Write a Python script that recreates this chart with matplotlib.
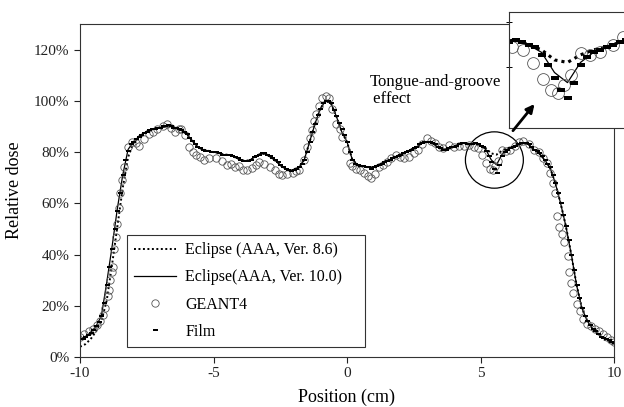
import numpy as np
import matplotlib
matplotlib.use('Agg')
import matplotlib.pyplot as plt
from matplotlib.patches import Ellipse

plt.rcParams['font.family'] = ['Liberation Serif', 'DejaVu Serif']

# Eclipse curves sampled every 0.2 cm
x_ecl = np.round(np.linspace(-10, 10, 101), 2)
ecl10 = [7, 8, 9.5, 12, 16, 29, 43, 58, 71, 81,
         84, 86, 87.5, 88.5, 89, 89.5, 90, 90, 89.5, 88.5,
         87, 84.5, 82, 81, 80.5, 80, 79.5, 79, 79, 78,
         77, 76.5, 77, 78.5, 79.5, 79, 77.5, 76, 74, 73,
         73, 74, 77, 84, 91, 97, 100, 99, 94, 88,
         84, 77, 75, 74.5, 74, 74, 75, 76, 77, 78,
         79, 80, 81, 82, 83.5, 84, 83.5, 82, 81, 81.5,
         82, 83, 83.5, 83, 83.5, 82.5, 81, 77, 75, 79,
         81, 82, 83, 83.5, 83, 81, 79.5, 77, 74, 68,
         60, 51, 40, 28, 19, 14, 11, 9, 7.5, 6.5,
         5.5]
ecl86 = [4, 5, 7, 10, 14, 22, 36, 51, 66, 78,
         83.5, 86, 87.5, 88.5, 89, 89.5, 90, 90, 89.5, 88.5,
         87, 84.5, 82, 81, 80.5, 80, 79.5, 79, 79, 78,
         77, 76.5, 77, 78.5, 79.5, 79, 77.5, 76, 74, 73,
         73, 74, 77, 84, 91, 97, 100, 99, 94, 88,
         84, 77, 75, 74.5, 74, 74, 75, 76, 77, 78,
         79, 80, 81, 82, 83.5, 84, 83.5, 82, 81, 81.5,
         82, 83, 83.5, 83, 83.5, 82.5, 81.5, 79.5, 79, 80.5,
         81.5, 82, 83, 83.5, 83, 81, 79.5, 77, 74, 68,
         60, 51, 40, 28, 19, 14, 11, 9, 7, 6,
         5]

# film sampled every 0.1 cm
x_film = np.round(np.linspace(-10, 10, 201), 2)
film = [7, 7, 8, 8.5, 9.5, 10.5, 12, 13.5, 16, 21,
        28, 35, 42, 50, 57, 64, 71, 77, 80.5, 83,
        84, 85, 86, 86.5, 87.5, 88, 88.5, 89, 89, 89.5,
        89.5, 90, 90, 90.5, 90, 89.5, 89.5, 89, 88.5, 88,
        87, 85.5, 84.5, 83, 82, 81.5, 81, 80.5, 80.5, 80,
        80, 80, 79.5, 79, 79, 79, 79, 78.5, 78, 77.5,
        77, 76.5, 76.5, 76.5, 77, 78, 78.5, 79, 79.5, 79.5,
        79, 78.5, 77.5, 77, 76, 75, 74, 73.5, 73, 72.5,
        73, 73.5, 74, 75.5, 77, 80, 84, 88, 91, 94.5,
        97, 99, 100, 100, 99, 96.5, 94, 91.5, 89, 86.5,
        84, 80, 77, 75.5, 75, 74.5, 74.5, 74, 74, 73.5,
        74, 74.5, 75, 75.5, 76, 76.5, 77, 77.5, 78, 78.5,
        79, 79.5, 80, 80.5, 81, 81.5, 82, 83, 83.5, 84,
        84, 84, 83.5, 83, 82, 81.5, 81, 81, 81.5, 82,
        82, 82.5, 83, 83.5, 83.5, 83, 83, 83, 83.5, 83,
        82.5, 82, 80.5, 78.5, 76, 73.5, 72, 75, 78.5, 80,
        81, 81.5, 82, 82.5, 83, 83.5, 83.5, 83.5, 83, 82,
        81, 80.5, 79.5, 78.5, 77, 75.5, 74, 71, 68, 64,
        60, 55.5, 51, 45.5, 40, 34, 28, 23, 19, 16,
        14, 12.5, 11, 10, 9, 8, 7.5, 7, 6.5, 6,
        5.5]

# GEANT4 points
x_g4 = [-10.0, -9.84, -9.65, -9.5, -9.35, -9.24, -9.12, -9.05, -8.95, -8.9,
        -8.86, -8.8, -8.76, -8.71, -8.65, -8.6, -8.55, -8.49, -8.42, -8.34,
        -8.2, -8.04, -7.9, -7.78, -7.6, -7.4, -7.25, -7.1, -6.9, -6.76,
        -6.6, -6.46, -6.3, -6.2, -6.05, -5.9, -5.75, -5.64, -5.5, -5.34,
        -5.15, -4.9, -4.7, -4.5, -4.35, -4.2, -4.05, -3.9, -3.75, -3.55,
        -3.4, -3.28, -3.1, -2.9, -2.7, -2.55, -2.45, -2.25, -2.04, -1.9,
        -1.78, -1.62, -1.48, -1.38, -1.3, -1.22, -1.15, -1.05, -0.92, -0.8,
        -0.68, -0.55, -0.4, -0.28, -0.17, -0.05, 0.1, 0.2, 0.35, 0.5,
        0.65, 0.8, 0.9, 1.05, 1.2, 1.35, 1.5, 1.65, 1.85, 2.0,
        2.15, 2.33, 2.5, 2.65, 2.8, 3.0, 3.15, 3.3, 3.45, 3.6,
        3.83, 4.0, 4.2, 4.4, 4.58, 4.75, 4.92, 5.07, 5.22, 5.35,
        5.45, 5.55, 5.65, 5.8, 5.95, 6.1, 6.3, 6.45, 6.6, 6.8,
        7.0, 7.2, 7.35, 7.5, 7.6, 7.7, 7.78, 7.85, 7.95, 8.05,
        8.14, 8.26, 8.33, 8.4, 8.48, 8.6, 8.72, 8.83, 8.98, 9.15,
        9.3, 9.45, 9.6, 9.75, 9.9, 10.0]
g4 = [8, 9, 10, 11, 12.5, 14, 16.5, 19, 24, 26,
      30, 33, 35, 42, 47, 52, 58, 64, 69, 74,
      82, 84, 83.5, 82.5, 85, 87, 88, 89, 90, 91,
      89.5, 88, 89, 89, 86.5, 82, 80, 79, 78, 77,
      77.5, 77.6, 76.5, 75, 75.5, 74, 74.5, 73, 73, 73.7,
      75, 76, 75.5, 74, 73, 71.5, 71, 71.5, 71.8, 72.5,
      73, 77, 82, 85.5, 88.6, 92, 95, 98, 101, 102,
      101, 97, 91, 89, 86, 81, 75.7, 74.5, 73.5, 73,
      72, 70.5, 70, 71.5, 74, 75, 76, 77.5, 78.8, 78,
      77.5, 78, 79.5, 81, 83, 85.5, 84.5, 83.5, 82, 81.5,
      82.7, 82, 82.5, 82.5, 82.7, 82, 81.5, 78.8, 75.7, 73.5,
      73, 74.5, 76.5, 80.8, 80.5, 81, 82.5, 84, 84.5, 83,
      81, 80, 77.5, 75.7, 72, 68, 64, 55, 50.6, 48,
      45, 39.6, 33, 29, 25, 20.8, 18, 15, 13, 12,
      11, 10, 9, 8, 6.5, 6]

x_ticks = [-10, -5, 0, 5, 10]
y_ticks = [0, 20, 40, 60, 80, 100, 120]

# flat rectangle marker for the film points
film_mark = [(-1, -0.55), (1, -0.55), (1, 0.55), (-1, 0.55), (-1, -0.55)]

fig = plt.figure(figsize=(6.24, 4.07), dpi=100)
ax = fig.add_axes([80/624, 1-357/407, 534/624, 333/407])

def draw(a, big=False):
    k = 1.6 if big else 1.0
    a.plot(x_ecl, ecl86, color='k', lw=1.4*k, ls=(0, (1, 1.3)), label='Eclipse (AAA, Ver. 8.6)')
    a.plot(x_ecl, ecl10, color='k', lw=0.9, label='Eclipse(AAA, Ver. 10.0)')
    a.plot(x_g4, g4, ls='none', marker='o', ms=5.3*k, mfc='none', mec='#555555', mew=0.6,
           label='GEANT4')
    a.plot(x_film, film, ls='none', marker=film_mark, ms=3.6*k, color='k', mew=0,
           label='Film')

draw(ax)
ax.set_xlim(-10, 10)
ax.set_ylim(0, 130)
ax.set_xticks(x_ticks)
ax.set_xticklabels(['-10', '-5', '0', '5', '10'])
ax.set_yticks(y_ticks)
ax.set_yticklabels([f'{v}%' for v in y_ticks])
ax.tick_params(direction='out', length=4, width=0.8, labelsize=11, colors='#222222')
for s in ax.spines.values():
    s.set_color('#333333')
    s.set_linewidth(0.8)
ax.set_xlabel('Position (cm)', fontsize=13, labelpad=6)
ax.set_ylabel('Relative dose', fontsize=13, labelpad=8)

leg = ax.legend(loc='lower left', bbox_to_anchor=(0.088, 0.03, 0.446, 0.336), mode='expand',
                borderaxespad=0, fontsize=11.5, frameon=True, fancybox=False,
                handlelength=2.6, labelspacing=0.7, borderpad=0.45, handletextpad=0.6)
leg.get_frame().set_edgecolor('k')
leg.get_frame().set_linewidth(0.8)

ax.add_patch(Ellipse((5.52, 76.9), 2.17, 22, fill=False, color='k', lw=0.9))
ax.text(0.84, 104, 'Tongue-and-groove\n effect', fontsize=12, ha='left', va='center',
        linespacing=1.1)

# zoomed inset
ax_in = fig.add_axes([509/624, 1-128/407, 130/624, 116/407])
draw(ax_in, big=True)
ax_in.set_xlim(4.7, 6.7)
ax_in.set_ylim(66, 89)
ax_in.set_xticks([])
ax_in.set_yticks([87, 78])
ax_in.set_yticklabels([])
ax_in.tick_params(direction='inout', length=4, width=0.7)
for s in ax_in.spines.values():
    s.set_color('#333333')
    s.set_linewidth(0.8)

ax_in.annotate('', xy=(7.09, 99.6), xycoords=ax.transData, xytext=(6.15, 87.5),
               textcoords=ax.transData,
               arrowprops=dict(arrowstyle='-|>', color='k', lw=2, mutation_scale=12))

fig.savefig('out.png', dpi=100)
